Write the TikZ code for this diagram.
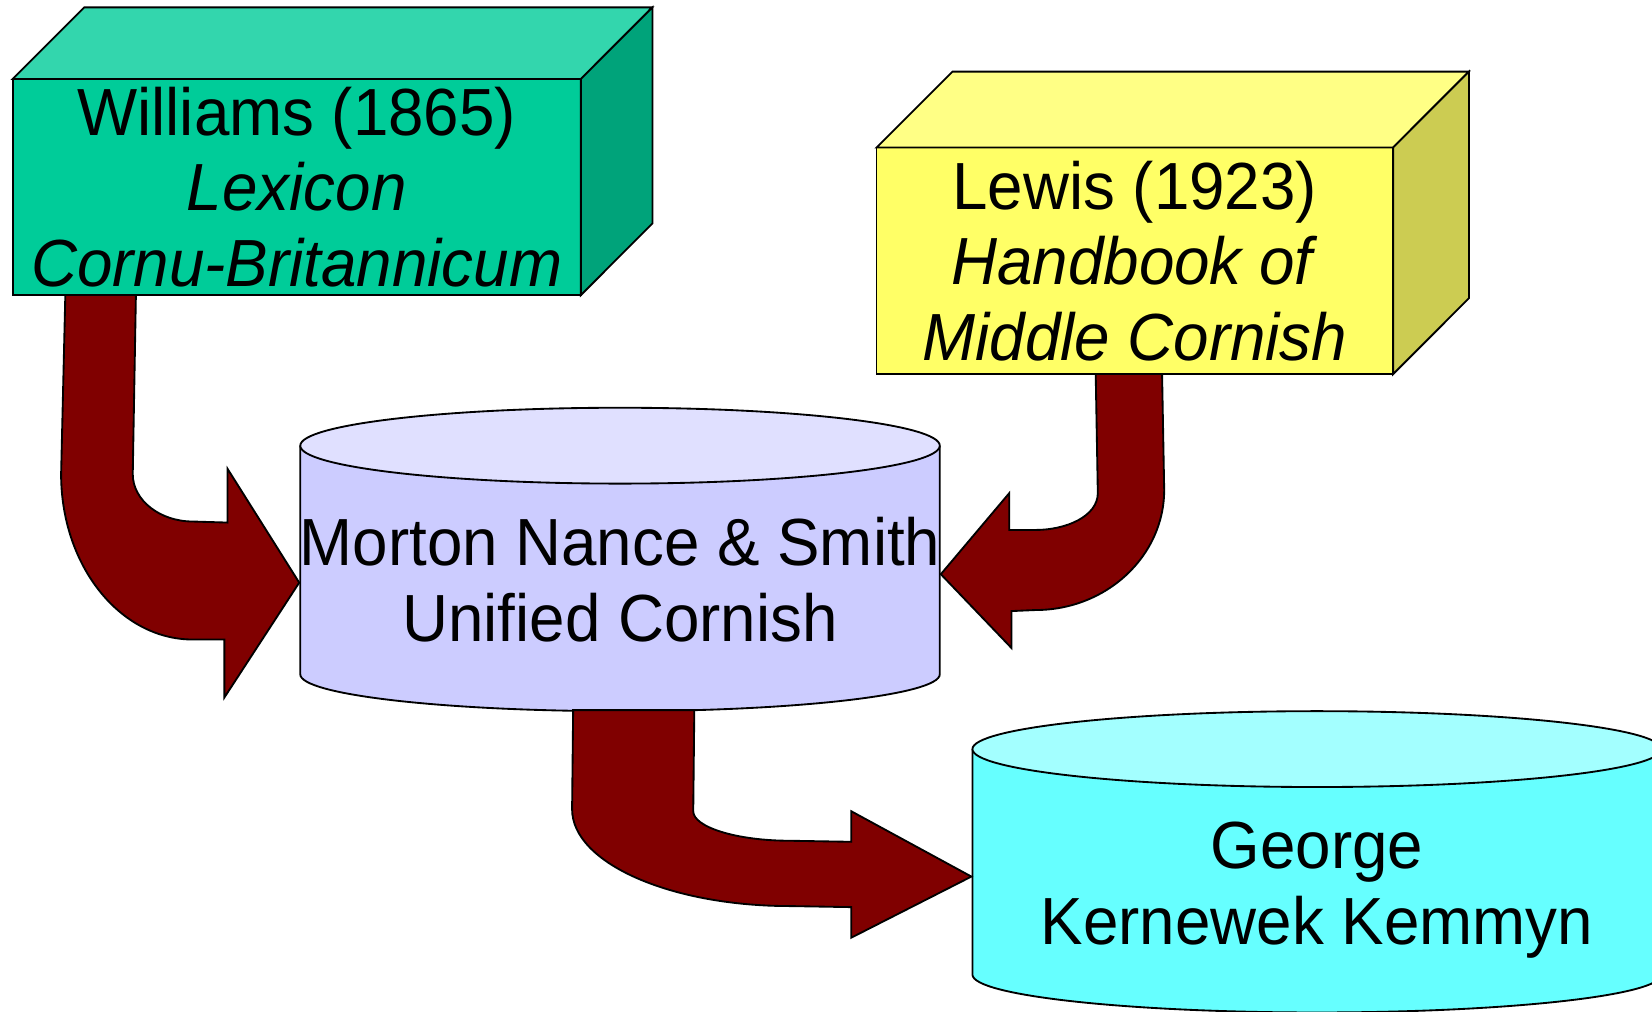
\documentclass[tikz,border=0pt]{standalone}
\usepackage{fontspec}
\setmainfont{Liberation Sans}[FakeStretch=0.955]
\definecolor{wfront}{HTML}{00CC99}
\definecolor{wtop}{HTML}{33D6AD}
\definecolor{wside}{HTML}{00A37A}
\definecolor{lfront}{HTML}{FFFF66}
\definecolor{ltop}{HTML}{FFFF85}
\definecolor{lside}{HTML}{CCCC52}
\definecolor{mbody}{HTML}{CCCCFF}
\definecolor{mtop}{HTML}{E0E0FF}
\definecolor{gbody}{HTML}{66FFFF}
\definecolor{gtop}{HTML}{A3FFFF}
\definecolor{arrowred}{HTML}{800000}
\newcommand\lbl{\fontsize{18pt}{20.4pt}\selectfont}
\begin{document}
\begin{tikzpicture}[x=0.01cm,y=-0.01cm, line width=0.5pt, line join=miter,
  face/.style={draw=black, inner sep=0pt, outer sep=0pt, align=center, font=\lbl},
  lbltext/.style={inner sep=0pt, align=center, font=\lbl},
  bentarrow/.style={draw=black, fill=arrowred, line width=0.5pt}]
\useasboundingbox (0,0) rectangle (1568,960);
\clip (0,0) rectangle (1568,960);
% Williams box
\node[face, fill=wfront, minimum width=5.39cm, minimum height=2.05cm, anchor=north west] (will) at (12,75)
  {Williams (1865)\\\textit{Lexicon}\\\textit{Cornu-Britannicum}};
\filldraw[fill=wtop] (will.north west) -- ++(68,-68) -- ++(539,0) -- (will.north east) -- cycle;
\filldraw[fill=wside] (will.north east) -- ++(68,-68) -- ++(0,205) -- (will.south east) -- cycle;
% Lewis box
\node[face, fill=lfront, minimum width=4.90cm, minimum height=2.15cm, anchor=north west] (lew) at (832,140)
  {Lewis (1923)\\\textit{Handbook of}\\\textit{Middle Cornish}};
\filldraw[fill=ltop] (lew.north west) -- ++(72,-72) -- ++(490,0) -- (lew.north east) -- cycle;
\filldraw[fill=lside] (lew.north east) -- ++(72,-72) -- ++(0,215) -- (lew.south east) -- cycle;
% Morton Nance cylinder
\fill[mbody] (285,423) -- (285,640) arc[start angle=180,end angle=0,x radius=303.5,y radius=35] -- (892,423) -- cycle;
\draw (285,423) -- (285,640) arc[start angle=180,end angle=0,x radius=303.5,y radius=35] -- (892,423);
\filldraw[fill=mtop] (588.5,423) ellipse[x radius=303.5,y radius=36];
\node[lbltext] (mns) at (588.5,550) {Morton Nance \& Smith\\Unified Cornish};
% George cylinder
\fill[gbody] (923,711) -- (923,925) arc[start angle=180,end angle=0,x radius=327,y radius=36] -- (1577,711) -- cycle;
\draw (923,711) -- (923,925) arc[start angle=180,end angle=0,x radius=327,y radius=36] -- (1577,711);
\filldraw[fill=gtop] (1250,711) ellipse[x radius=327,y radius=36];
\node[lbltext] (geo) at (1250,845) {George\\Kernewek Kemmyn};
% arrows
\draw[bentarrow] (62,280) -- (58,450) .. controls (58,537) and (114,607) .. (183,607) -- (213,607) -- (213,662)
  -- (284,553) -- (216,445) -- (216,496) -- (183,495) .. controls (152,495) and (126,475) .. (126,450) -- (129,280) -- cycle;
\draw[bentarrow] (1040,355) -- (1042,468) .. controls (1042,490) and (1012,503) .. (983,503) -- (958,503) -- (958,468)
  -- (893,545) -- (960,615) -- (960,580) -- (983,579) .. controls (1050,579) and (1105,528) .. (1105,465) -- (1103,355) -- cycle;
\draw[bentarrow] (544,674) -- (543,768) .. controls (543,819) and (636,860) .. (750,860) -- (808,861) -- (808,890)
  -- (922,832) -- (808,770) -- (808,799) -- (750,798) .. controls (699,798) and (658,785) .. (658,770) -- (659,674) -- cycle;
\end{tikzpicture}
\end{document}
